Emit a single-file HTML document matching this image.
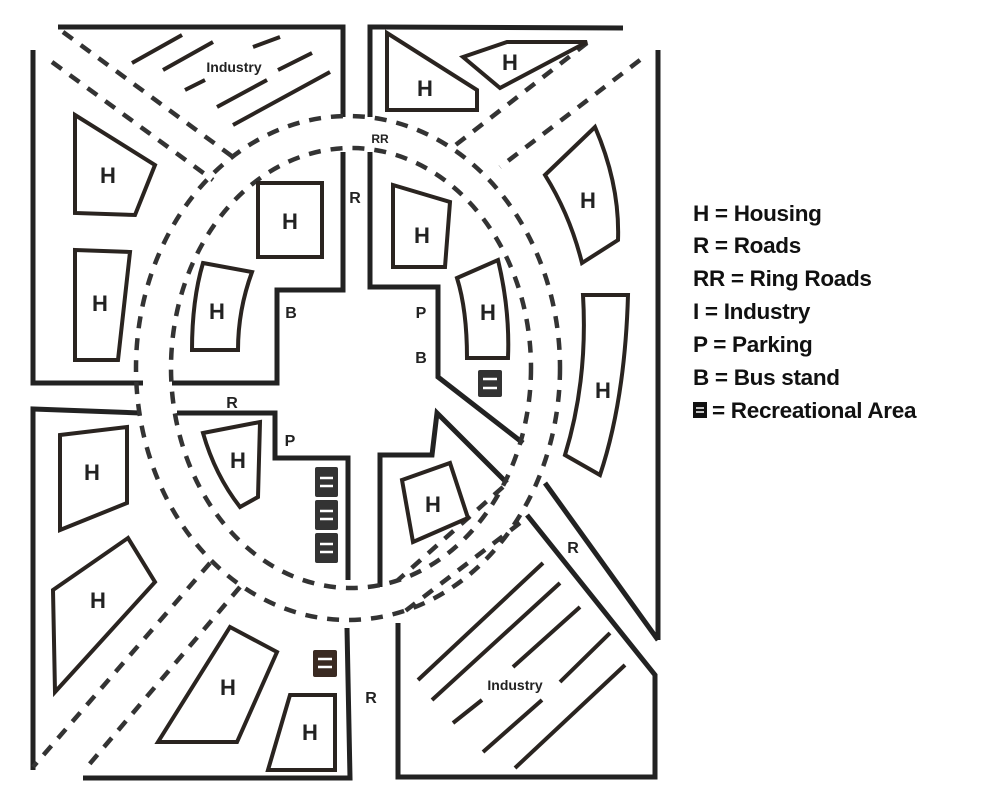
<!DOCTYPE html>
<html><head><meta charset="utf-8"><style>
html,body{margin:0;padding:0;background:#fff;}
svg{display:block;}
.l{fill:none;stroke:#222;stroke-width:5;stroke-linejoin:miter;stroke-linecap:butt}
.h{fill:none;stroke:#2a2420;stroke-width:4}
.d{fill:none;stroke:#333;stroke-width:4.5;stroke-dasharray:12 10}
.t{font-family:"Liberation Sans",sans-serif;font-weight:bold;fill:#222}
.g{font-family:"Liberation Sans",sans-serif;font-weight:bold;fill:#111;font-size:22.5px;letter-spacing:-0.3px}
.hz{stroke:#2a2420;stroke-width:4}
</style></head><body>
<svg width="993" height="809" viewBox="0 0 993 809" xmlns="http://www.w3.org/2000/svg">
<polyline class="l" points="58,27 343,27 343,117"/>
<polyline class="l" points="33,50 33,383 143,383"/>
<polyline class="l" points="172,383 277,383 277,290 343,290 343,152"/>
<polyline class="l" points="370,117 370,27 623,28"/>
<polyline class="l" points="370,152 370,287 438,287 438,377 523,443"/>
<line class="l" x1="658" y1="50" x2="658" y2="640"/>
<polyline class="l" points="545,483 658,640"/>
<polyline class="l" points="380,587 380,455 432,455 437,413 507,483"/>
<polyline class="l" points="527,515 655,675 655,777 398,777 398,623"/>
<polyline class="l" points="140,413 33,409 33,770"/>
<polyline class="l" points="177,413 275,413 275,458 348,458 348,580"/>
<polyline class="l" points="347,628 350,778 83,778"/>
<ellipse class="d" cx="348" cy="368" rx="212" ry="252"/>
<ellipse class="d" cx="351" cy="368" rx="180" ry="220"/>
<line class="d" x1="63" y1="32" x2="233" y2="157"/>
<line class="d" x1="52" y1="62" x2="213" y2="180"/>
<line class="d" x1="587" y1="43" x2="453" y2="147"/>
<line class="d" x1="640" y1="60" x2="500" y2="167"/>
<line class="d" x1="210" y1="563" x2="33" y2="767"/>
<line class="d" x1="240" y1="587" x2="87" y2="767"/>
<line class="d" x1="503" y1="487" x2="398" y2="580"/>
<line class="d" x1="520" y1="523" x2="400" y2="615"/>
<polygon class="h" points="75,115 155,165 135,215 75,213"/>
<polygon class="h" points="75,250 130,252 118,360 75,360"/>
<polygon class="h" points="258,183 322,183 322,257 258,257"/>
<path class="h" d="M203,263 L252,272 Q238,310 238,350 L192,350 Q192,300 203,263Z"/>
<polygon class="h" points="387,33 477,90 477,110 387,110"/>
<polygon class="h" points="463,57 507,42 587,42 500,88"/>
<polygon class="h" points="393,185 450,202 445,267 393,267"/>
<path class="h" d="M457,278 L498,260 Q510,310 508,358 L467,358 Q467,310 457,278Z"/>
<path class="h" d="M545,175 L595,127 Q620,185 618,240 L582,263 Q570,215 545,175Z"/>
<path class="h" d="M583,295 L628,295 Q625,400 600,475 L565,455 Q588,380 583,295Z"/>
<polygon class="h" points="60,435 127,427 127,503 60,530"/>
<polygon class="h" points="53,590 128,538 155,582 55,692"/>
<path class="h" d="M203,433 L260,422 L258,497 L240,507 Q215,475 203,433Z"/>
<polygon class="h" points="230,627 277,652 237,742 158,742"/>
<polygon class="h" points="290,695 335,695 335,770 268,770"/>
<polygon class="h" points="402,480 450,463 468,518 413,542"/>
<g fill="#333">
<rect x="478" y="370" width="24" height="27" rx="2"/>
<rect x="315" y="467" width="23" height="30" rx="2"/>
<rect x="315" y="500" width="23" height="30" rx="2"/>
<rect x="315" y="533" width="23" height="30" rx="2"/>
<rect x="313" y="650" width="24" height="27" rx="2" fill="#3a2a22"/>
</g>
<g stroke="#fff" stroke-width="2.5">
<line x1="483" y1="379" x2="497" y2="379"/><line x1="483" y1="388" x2="497" y2="388"/>
<line x1="320" y1="478" x2="333" y2="478"/><line x1="320" y1="486" x2="333" y2="486"/>
<line x1="320" y1="511" x2="333" y2="511"/><line x1="320" y1="519" x2="333" y2="519"/>
<line x1="320" y1="544" x2="333" y2="544"/><line x1="320" y1="552" x2="333" y2="552"/>
<line x1="318" y1="659" x2="332" y2="659"/><line x1="318" y1="667" x2="332" y2="667"/>
</g>
<g class="hz">
<line x1="132" y1="63" x2="182" y2="35"/><line x1="163" y1="70" x2="213" y2="42"/>
<line x1="185" y1="90" x2="205" y2="80"/><line x1="253" y1="47" x2="280" y2="37"/>
<line x1="278" y1="70" x2="312" y2="53"/><line x1="217" y1="107" x2="267" y2="80"/>
<line x1="233" y1="125" x2="330" y2="72"/>
<line x1="418" y1="680" x2="543" y2="563"/><line x1="432" y1="700" x2="560" y2="583"/>
<line x1="513" y1="667" x2="580" y2="607"/><line x1="453" y1="723" x2="482" y2="700"/>
<line x1="483" y1="752" x2="542" y2="700"/><line x1="560" y1="682" x2="610" y2="633"/>
<line x1="515" y1="768" x2="625" y2="665"/>
</g>
<g class="t" font-size="22" text-anchor="middle">
<text x="108" y="183">H</text><text x="100" y="311">H</text><text x="290" y="229">H</text>
<text x="217" y="319">H</text><text x="425" y="96">H</text><text x="510" y="70">H</text>
<text x="422" y="243">H</text><text x="488" y="320">H</text><text x="588" y="208">H</text>
<text x="603" y="398">H</text><text x="92" y="480">H</text><text x="98" y="608">H</text>
<text x="238" y="468">H</text><text x="228" y="695">H</text><text x="310" y="740">H</text>
<text x="433" y="512">H</text>
</g>
<g class="t" font-size="16" text-anchor="middle">
<text x="355" y="203">R</text><text x="291" y="318">B</text><text x="421" y="318">P</text>
<text x="421" y="363">B</text><text x="232" y="408">R</text><text x="290" y="446">P</text>
<text x="573" y="553">R</text><text x="371" y="703">R</text>
<text x="380" y="143" font-size="12">RR</text>
<text x="234" y="72" font-size="14">Industry</text>
<text x="515" y="690" font-size="14">Industry</text>
</g>
<g class="g">
<text x="693" y="221">H = Housing</text>
<text x="693" y="253">R = Roads</text>
<text x="693" y="286">RR = Ring Roads</text>
<text x="693" y="319">I = Industry</text>
<text x="693" y="352">P = Parking</text>
<text x="693" y="385">B = Bus stand</text>
<text x="712" y="418">= Recreational Area</text>
</g>
<rect x="693" y="402" width="14" height="16" fill="#111"/>
<line x1="696" y1="408" x2="704" y2="408" stroke="#fff" stroke-width="1.5"/>
<line x1="696" y1="412" x2="704" y2="412" stroke="#fff" stroke-width="1.5"/>
</svg>
</body></html>
